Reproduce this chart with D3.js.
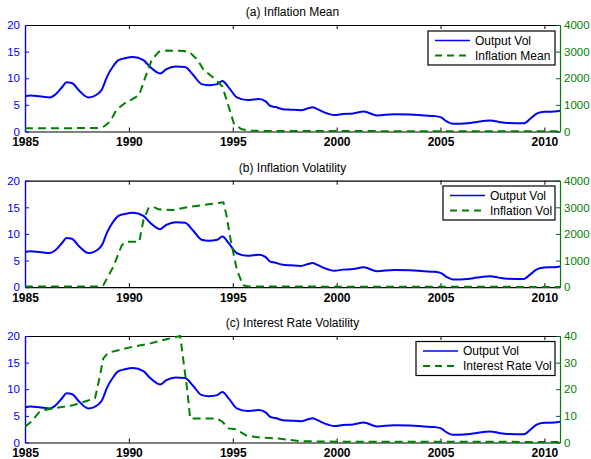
<!DOCTYPE html>
<html><head><meta charset="utf-8">
<script src="https://cdn.jsdelivr.net/npm/d3@7"></script>
<style>
body{margin:0;background:#fff;}
svg{display:block;font-family:"Liberation Sans",Arial,Helvetica,sans-serif;}
</style></head>
<body>
<svg id="chart" width="591" height="459"></svg>
<script>
// ---- data ----
const xTicks = [1985, 1990, 1995, 2000, 2005, 2010];
const leftTicks = [0, 5, 10, 15, 20];
const rightTicksInfl = [0, 1000, 2000, 3000, 4000];
const rightTicksRate = [0, 10, 20, 30, 40];
const panelTitles = ["(a) Inflation Mean", "(b) Inflation Volatility", "(c) Interest Rate Volatility"];
const legendNames = ["Inflation Mean", "Inflation Vol", "Interest Rate Vol"];

const outputYears = [1985.0,1985.25,1985.7,1986.2,1986.45,1986.8,1987.0,1987.25,1987.65,1988.05,1988.3,1988.55,1988.7,1988.95,1989.25,1989.5,1989.8,1990.2,1990.7,1991.0,1991.5,1991.8,1992.25,1992.7,1993.1,1993.5,1993.85,1994.25,1994.5,1994.8,1995.2,1995.7,1996.25,1996.6,1996.8,1997.05,1997.4,1997.8,1998.26,1998.67,1998.83,1999.07,1999.4,1999.9,2000.3,2000.8,2001.3,2001.95,2002.75,2003.55,2004.2,2004.7,2005.0,2005.3,2005.6,2006.3,2006.75,2007.4,2007.8,2008.2,2009.0,2009.35,2009.65,2010.0,2010.5,2010.75];
const outputVol = [6.6,6.75,6.6,6.4,6.9,8.4,9.25,9.1,7.5,6.4,6.6,7.2,7.9,10.3,12.3,13.4,13.75,14.0,13.4,12.2,10.9,11.7,12.2,12.1,10.6,8.9,8.7,8.9,9.5,8.3,6.4,5.9,6.1,5.6,4.8,4.6,4.2,4.1,4.0,4.4,4.55,4.2,3.6,3.1,3.3,3.4,3.75,3.0,3.25,3.2,3.0,2.9,2.7,1.9,1.45,1.55,1.8,2.05,1.8,1.6,1.55,2.5,3.4,3.7,3.75,3.9];

const inflMeanYears = [1985.0,1988.5,1988.8,1989.1,1989.4,1989.8,1990.15,1990.5,1990.8,1991.1,1991.45,1991.85,1992.65,1992.95,1993.3,1993.6,1994.1,1994.5,1994.7,1995.05,1995.4,1995.85,2000.0,2010.75];
const inflMean = [120,130,190,375,810,1060,1210,1375,2060,2690,3000,3040,3025,2960,2690,2310,2000,1690,1190,310,90,25,15,10];

const inflVolYears = [1985.0,1988.6,1988.77,1989.25,1989.66,1989.9,1990.5,1990.7,1990.94,1991.18,1991.42,1992.14,1992.95,1993.59,1994.15,1994.55,1994.71,1994.87,1995.2,1995.5,1995.75,2010.75];
const inflVol = [25,25,75,770,1580,1705,1705,2520,2960,3020,2925,2900,3020,3085,3150,3190,2650,1890,640,75,25,10];

const rateVolYears = [1985.0,1985.3,1985.7,1986.05,1986.7,1987.3,1988.0,1988.37,1988.53,1988.77,1989.0,1989.66,1990.2,1990.94,1991.66,1992.47,1992.6,1992.79,1992.95,1993.59,1994.23,1994.5,1994.8,1995.15,1995.7,1996.3,1997.3,1998.25,2000.0,2005.0,2010.75];
const rateVol = [5.9,7.8,11.5,12.4,13.2,14.0,15.7,16.6,22.2,31.6,33.7,35.0,36.0,37.0,38.5,40.0,32.2,20.9,9.0,9.0,9.0,7.8,5.3,5.0,2.4,1.9,1.4,0.5,0.3,0.3,0.2];

// ---- layout ----
const BLUE = "#0000ff", GREEN = "#008000";
const svg = d3.select("#chart");
const left = 25, right = 560, ph = 106.5;
const tops = [25, 180.7, 336];
const legendBoxes = [
  {x:428, y:31, w:127, h:34},
  {x:443, y:186, w:112, h:34},
  {x:416, y:341.5, w:139, h:34}
];
const panels = [
  {ys: inflMeanYears, vs: inflMean, dom:[0,4000], ticks: rightTicksInfl},
  {ys: inflVolYears, vs: inflVol, dom:[0,4000], ticks: rightTicksInfl},
  {ys: rateVolYears, vs: rateVol, dom:[0,40], ticks: rightTicksRate}
];

const x = d3.scaleLinear().domain([1985, 2010.75]).range([left, right]);

panels.forEach((p, i) => {
  const top = tops[i], bottom = top + ph;
  const yL = d3.scaleLinear().domain([0, 20]).range([bottom, top]);
  const yR = d3.scaleLinear().domain(p.dom).range([bottom, top]);
  const g = svg.append("g");

  const cid = "clip" + i;
  svg.append("clipPath").attr("id", cid).append("rect")
    .attr("x", left).attr("y", top - 1).attr("width", right - left).attr("height", ph + 2);

  // title
  g.append("text").attr("x", 292.5).attr("y", top - 9).attr("text-anchor", "middle")
    .attr("font-size", 12).attr("fill", "#000").text(panelTitles[i]);

  // bottom axis
  const xb = d3.axisBottom(x).tickValues(xTicks).tickFormat(d3.format("d")).tickSizeInner(-4).tickSizeOuter(0).tickPadding(6);
  const gb = g.append("g").attr("transform", `translate(0,${bottom})`).call(xb);
  gb.select(".domain").attr("stroke", "#000").attr("stroke-width", 1.2);
  gb.selectAll(".tick line").attr("stroke", "#000");
  gb.selectAll(".tick text").attr("font-size", 12).attr("font-weight", "bold").attr("fill", "#000")
    .attr("font-family", "'Liberation Sans',Arial,sans-serif");

  // top axis
  const xt = d3.axisTop(x).tickValues(xTicks).tickFormat("").tickSizeInner(-4).tickSizeOuter(0);
  const gt = g.append("g").attr("transform", `translate(0,${top})`).call(xt);
  gt.select(".domain").attr("stroke", "#000").attr("stroke-width", 1.2);
  gt.selectAll(".tick line").attr("stroke", "#000");

  // right axis
  const ar = d3.axisRight(yR).tickValues(p.ticks).tickFormat(d3.format("d")).tickSizeInner(-4).tickSizeOuter(0).tickPadding(4);
  const gr = g.append("g").attr("transform", `translate(${right},0)`).call(ar);
  gr.select(".domain").attr("stroke", GREEN).attr("stroke-width", 1.2);
  gr.selectAll(".tick line").attr("stroke", "#005a40");
  gr.selectAll(".tick text").attr("font-size", 11.5).attr("fill", GREEN)
    .attr("font-family", "'Liberation Sans',Arial,sans-serif");

  // left axis
  const al = d3.axisLeft(yL).tickValues(leftTicks).tickFormat(d3.format("d")).tickSizeInner(-4).tickSizeOuter(0).tickPadding(5);
  const gl = g.append("g").attr("transform", `translate(${left},0)`).call(al);
  gl.select(".domain").attr("stroke", BLUE).attr("stroke-width", 1.4);
  gl.selectAll(".tick line").attr("stroke", BLUE);
  gl.selectAll(".tick text").attr("font-size", 11.5).attr("fill", BLUE)
    .attr("font-family", "'Liberation Sans',Arial,sans-serif");

  // output vol line
  const outData = outputYears.map((yr, k) => [yr, outputVol[k]]);
  g.append("path").datum(outData).attr("clip-path", `url(#${cid})`)
    .attr("fill", "none").attr("stroke", BLUE).attr("stroke-width", 2)
    .attr("d", d3.line().x(d => x(d[0])).y(d => yL(d[1])).curve(d3.curveMonotoneX));

  // green dashed line
  const gData = p.ys.map((yr, k) => [yr, p.vs[k]]);
  g.append("path").datum(gData).attr("clip-path", `url(#${cid})`)
    .attr("fill", "none").attr("stroke", GREEN).attr("stroke-width", 2)
    .attr("stroke-dasharray", "8,5")
    .attr("d", d3.line().x(d => x(d[0])).y(d => yR(d[1])));

  // legend
  const lb = legendBoxes[i];
  const lg = g.append("g");
  lg.append("rect").attr("x", lb.x).attr("y", lb.y).attr("width", lb.w).attr("height", lb.h)
    .attr("fill", "#fff").attr("stroke", "#000").attr("stroke-width", 1.2);
  const names = ["Output Vol", legendNames[i]];
  names.forEach((nm, k) => {
    const ly = lb.y + 9.5 + k * 15;
    lg.append("line").attr("x1", lb.x + 7).attr("x2", lb.x + 42).attr("y1", ly).attr("y2", ly)
      .attr("stroke", k === 0 ? BLUE : GREEN).attr("stroke-width", k === 0 ? 1.5 : 2)
      .attr("stroke-dasharray", k === 0 ? null : "7,5");
    lg.append("text").attr("x", lb.x + 47).attr("y", ly + 4.3).attr("font-size", 12)
      .attr("fill", "#000").text(nm);
  });
});
</script>
</body></html>
